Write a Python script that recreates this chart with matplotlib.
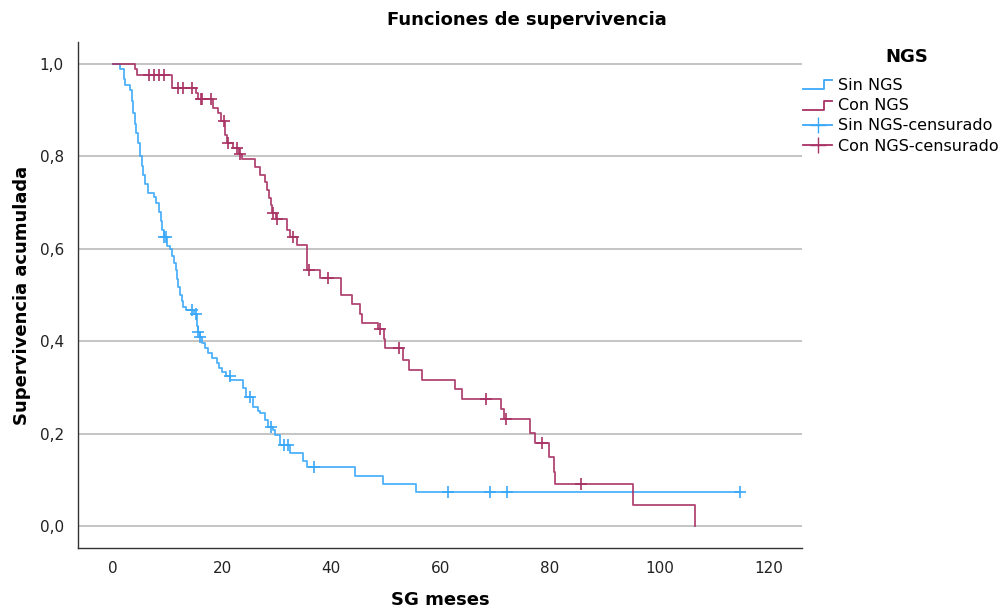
import numpy as np
import matplotlib
matplotlib.use("Agg")
import matplotlib.pyplot as plt
from matplotlib.lines import Line2D
from matplotlib.legend_handler import HandlerBase
from matplotlib.ticker import FuncFormatter

# ── Kaplan-Meier steps (time in months, survival after drop) ──
sin_t = [0, 1.4, 2.0, 2.3, 3.2, 3.5, 3.8, 4.0, 4.3, 4.6, 5.0, 5.3, 5.6, 6.0, 6.5,
         7.5, 7.9, 8.4, 8.8, 9.1, 9.3, 9.9, 10.4, 10.9, 11.2, 11.5, 11.8, 12.0,
         12.3, 12.6, 12.9, 13.5, 14.8, 15.5, 15.6, 15.9, 16.3, 16.9, 17.5, 18.1,
         19.0, 19.5, 20.0, 20.7, 21.5, 23.9, 24.3, 25.7, 26.5, 27.0, 27.9, 28.5,
         29.3, 29.7, 30.6, 32.4, 34.9, 35.5, 44.3, 49.5, 55.5, 114.7]
sin_s = [1.0, 0.989, 0.968, 0.955, 0.944, 0.92, 0.895, 0.87, 0.85, 0.83, 0.80,
         0.78, 0.76, 0.74, 0.72, 0.713, 0.70, 0.68, 0.66, 0.64, 0.625, 0.607,
         0.60, 0.585, 0.57, 0.555, 0.535, 0.518, 0.50, 0.488, 0.475, 0.468,
         0.458, 0.433, 0.42, 0.41, 0.397, 0.385, 0.375, 0.364, 0.353, 0.343,
         0.334, 0.325, 0.316, 0.298, 0.28, 0.258, 0.25, 0.244, 0.229, 0.215,
         0.207, 0.196, 0.175, 0.157, 0.14, 0.127, 0.109, 0.091, 0.073, 0.073]
sin_cens = [9.4, 9.8, 14.5, 15.2, 15.7, 16.0, 21.4, 25.1, 28.9, 31.4, 32.1, 36.9,
            61.4, 69.0, 72.2, 114.7]

con_t = [0, 4.0, 4.5, 10.8, 15.2, 15.7, 18.4, 19.2, 19.8, 20.6, 21.0, 22.1, 23.1,
         23.7, 26.05, 27.0, 27.9, 28.2, 28.6, 28.9, 29.1, 29.8, 31.8, 32.4, 33.7,
         35.5, 37.9, 41.7, 43.7, 45.2, 45.7, 48.6, 49.6, 49.9, 53.2, 54.2, 56.5,
         62.6, 63.9, 71.1, 71.5, 76.4, 77.2, 79.9, 80.7, 81.0, 95.2, 106.6]
con_s = [1.0, 0.989, 0.976, 0.949, 0.937, 0.924, 0.905, 0.895, 0.876, 0.846,
         0.83, 0.818, 0.805, 0.795, 0.778, 0.76, 0.745, 0.727, 0.71, 0.695,
         0.678, 0.664, 0.641, 0.626, 0.608, 0.554, 0.536, 0.50, 0.48, 0.46,
         0.44, 0.426, 0.405, 0.385, 0.36, 0.338, 0.317, 0.296, 0.276, 0.253,
         0.231, 0.202, 0.179, 0.15, 0.118, 0.091, 0.045, 0.0]
con_cens = [6.7, 7.6, 8.4, 9.3, 12.0, 12.8, 14.5, 16.2, 16.4, 17.9, 20.3, 21.1,
            22.7, 23.3, 29.3, 30.1, 32.9, 36.0, 39.3, 48.9, 52.4, 68.3, 71.9,
            78.6, 85.6]

labels = ["Sin NGS", "Con NGS", "Sin NGS-censurado", "Con NGS-censurado"]
c_sin = "#3aa8f8"
c_con = "#a83264"


def at_time(t, s, c):
    idx = np.searchsorted(t, c, side="right") - 1
    return np.asarray(s)[idx]


class StepHandler(HandlerBase):
    def create_artists(self, legend, orig_handle, xdescent, ydescent,
                       width, height, fontsize, trans):
        x0, y0 = -xdescent, -ydescent
        xs = [x0, x0 + width * 0.72, x0 + width * 0.72, x0 + width]
        ys = [y0 + height * 0.05, y0 + height * 0.05, y0 + height * 0.85, y0 + height * 0.85]
        ln = Line2D(xs, ys, color=orig_handle.get_color(), lw=1.3)
        ln.set_transform(trans)
        return [ln]


fig = plt.figure(figsize=(10.05, 6.10), dpi=100)
ax = fig.add_axes([0.0773, 0.1016, 0.7207, 0.8295])

ax.step(sin_t, sin_s, where="post", color=c_sin, lw=1.3, alpha=0.9, zorder=3)
ax.step(con_t, con_s, where="post", color=c_con, lw=1.3, alpha=0.9, zorder=3)
ax.plot(sin_cens, at_time(sin_t, sin_s, sin_cens), "+", color=c_sin,
        markersize=9, markeredgewidth=1.2, zorder=4)
ax.plot(con_cens, at_time(con_t, con_s, con_cens), "+", color=c_con,
        markersize=9, markeredgewidth=1.2, zorder=4)

ax.set_xlim(-6.4, 126.1)
ax.set_ylim(-0.0476, 1.0476)
ax.set_xticks([0, 20, 40, 60, 80, 100, 120])
ax.set_yticks([0, 0.2, 0.4, 0.6, 0.8, 1.0])
ax.yaxis.set_major_formatter(FuncFormatter(lambda v, p: f"{v:.1f}".replace(".", ",")))
ax.tick_params(length=0, labelsize=11, colors="#222222")
ax.tick_params(axis="x", pad=9)
ax.tick_params(axis="y", pad=10)
ax.yaxis.grid(True, color="#b4b4b4", lw=1.1)
ax.set_axisbelow(True)
for side in ["top", "right"]:
    ax.spines[side].set_visible(False)
for side in ["left", "bottom"]:
    ax.spines[side].set_color("#333333")
    ax.spines[side].set_linewidth(1.0)

fig.text(0.524, 0.967, "Funciones de supervivencia", fontsize=13, fontweight="bold",
         ha="center", va="center")
ax.set_xlabel("SG meses", fontsize=13, fontweight="bold", labelpad=11)
ax.set_ylabel("Supervivencia acumulada", fontsize=13, fontweight="bold", labelpad=6)

# legend title drawn as separate text for the wider gap above the entries
fig.text(907 / 1005, 1 - 57 / 610, "NGS", fontsize=13, fontweight="bold",
         ha="center", va="center")
handles = [Line2D([0], [0], color=c_sin), Line2D([0], [0], color=c_con),
           Line2D([0], [0], color=c_sin, marker="+", markersize=11, lw=1.3),
           Line2D([0], [0], color=c_con, marker="+", markersize=11, lw=1.3)]
leg = fig.legend(handles, labels, loc="upper left", bbox_to_anchor=(0.785, 0.896),
                 frameon=False, fontsize=11.5, handlelength=1.8,
                 handletextpad=0.35, labelspacing=0.33, numpoints=1,
                 handler_map={handles[0]: StepHandler(), handles[1]: StepHandler()})

fig.savefig("out.png", dpi=100)
